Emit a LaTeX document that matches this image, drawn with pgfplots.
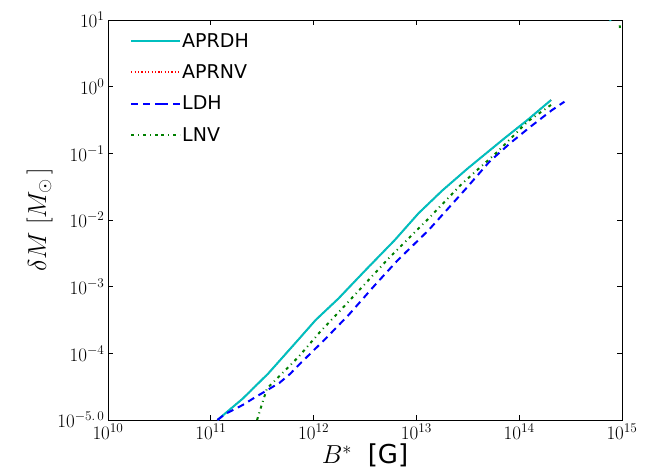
\RequirePackage{fix-cm}
\documentclass[border=0pt]{standalone}
\usepackage{fontspec}
\setsansfont{DejaVu Sans}
\usepackage{pgfplots}
\pgfplotsset{compat=1.18}
\definecolor{mplc}{rgb}{0,0.75,0.75}
\definecolor{mplg}{rgb}{0,0.5,0}
\begin{document}
\begin{tikzpicture}
\useasboundingbox (-108pt,-55pt) rectangle (542pt,420pt);
\begin{axis}[
  at={(0pt,0pt)}, anchor=south west,
  scale only axis, width=514pt, height=400pt,
  xmode=log, ymode=log,
  xmin=1e10, xmax=1e15, ymin=1e-5, ymax=10,
  xtick={1e10,1e11,1e12,1e13,1e14,1e15},
  xticklabels={$10^{10}$,$10^{11}$,$10^{12}$,$10^{13}$,$10^{14}$,$10^{15}$},
  ytick={1e-5,1e-4,1e-3,1e-2,1e-1,1,10},
  yticklabels={$10^{-5.\,0}$,$10^{-4}$,$10^{-3}$,$10^{-2}$,$10^{-1}$,$10^{0}$,$10^{1}$},
  xminorticks=false, yminorticks=false,
  tick align=inside, major tick length=5pt,
  xtick pos=both, ytick pos=both,
  axis line style={line width=0.9pt},
  every tick/.style={black, line width=0.8pt},
  tick label style={font=\fontsize{19}{19}\selectfont},
  xlabel={$B^*$\ \ \textsf{[G]}},
  ylabel={$\delta M\;[M_\odot\,]$},
  label style={font=\fontsize{26}{26}\selectfont},
  xlabel style={yshift=2pt},
  ylabel style={yshift=-2pt},
  legend style={at={(0,1)}, xshift=22pt, yshift=-12pt, anchor=north west,
    draw=none, fill=none, inner sep=0pt, row sep=14pt,
    font=\sffamily\fontsize{19}{19}\selectfont,
    nodes={inner sep=1pt}},
  legend cell align=left,
  legend image code/.code={\draw[#1] (0pt,0pt) -- (30pt,0pt); \path (30pt,0pt) -- (49pt,0pt);},
  clip=true,
]
\addlegendimage{mplc, line width=2pt}
\addlegendentry{APRDH}
\addlegendimage{red, line width=1.5pt, dash pattern=on 1.2pt off 2.2pt}
\addlegendentry{APRNV}
\addlegendimage{blue, line width=2pt, dash pattern=on 7pt off 5pt}
\addlegendentry{LDH}
\addlegendimage{mplg, line width=2pt, dash pattern=on 3pt off 4pt on 1pt off 4pt}
\addlegendentry{LNV}
% APRNV (hidden under APRDH)
\addplot[red, line width=1.5pt, dash pattern=on 1.2pt off 2.2pt, forget plot] coordinates {
(1.159e11,1e-5) (2.042e11,2.089e-5) (3.631e11,5.012e-5) (7.244e11,1.660e-4)
(1.047e12,3.162e-4) (1.738e12,6.607e-4) (3.162e12,1.738e-3) (6.166e12,5.012e-3)
(1.047e13,1.259e-2) (1.778e13,2.754e-2) (3.162e13,5.957e-2) (7.178e13,1.679e-1)
(1.202e14,3.162e-1) (2.042e14,6.310e-1)};
% APRDH
\addplot[mplc, line width=2pt, forget plot] coordinates {
(1.159e11,1e-5) (2.042e11,2.089e-5) (3.631e11,5.012e-5) (7.244e11,1.660e-4)
(1.047e12,3.162e-4) (1.738e12,6.607e-4) (3.162e12,1.738e-3) (6.166e12,5.012e-3)
(1.047e13,1.259e-2) (1.778e13,2.754e-2) (3.162e13,5.957e-2) (7.178e13,1.679e-1)
(1.202e14,3.162e-1) (2.042e14,6.310e-1)};
% LDH
\addplot[blue, line width=2pt, dash pattern=on 7pt off 5pt, forget plot] coordinates {
(1.159e11,1e-5) (1.380e11,1.230e-5) (2.042e11,1.679e-5) (2.692e11,2.188e-5)
(3.467e11,2.754e-5) (4.677e11,3.631e-5) (5.888e11,4.898e-5) (7.161e11,6.683e-5)
(1.318e12,1.679e-4) (2.188e12,3.758e-4) (3.981e12,1.072e-3) (6.607e12,2.512e-3)
(1.318e13,7.079e-3) (2.951e13,2.818e-2) (5.129e13,7.499e-2) (8.128e13,1.413e-1)
(1.288e14,2.512e-1) (2.089e14,4.467e-1) (2.754e14,5.957e-1)};
% LNV
\addplot[mplg, line width=2pt, dash pattern=on 3pt off 4pt on 1pt off 4pt, forget plot] coordinates {
(2.818e11,1e-5) (3.162e11,1.778e-5) (3.524e11,2.985e-5) (4.266e11,3.981e-5)
(7.161e11,8.913e-5) (1.122e12,1.995e-4) (1.862e12,4.571e-4) (3.802e12,1.496e-3)
(5.370e12,2.661e-3) (1.318e13,1.059e-2) (2.754e13,3.467e-2) (6.166e13,1.059e-1)
(1.202e14,2.985e-1) (2.188e14,5.754e-1)};
% stray segments at the top right
\addplot[mplc, line width=2pt, forget plot] coordinates {(7.60e14,13) (7.70e14,9.6)};
\addplot[mplg, line width=2pt, forget plot] coordinates {(9.50e14,8.3) (9.55e14,7.6)};
\end{axis}
\end{tikzpicture}
\end{document}
